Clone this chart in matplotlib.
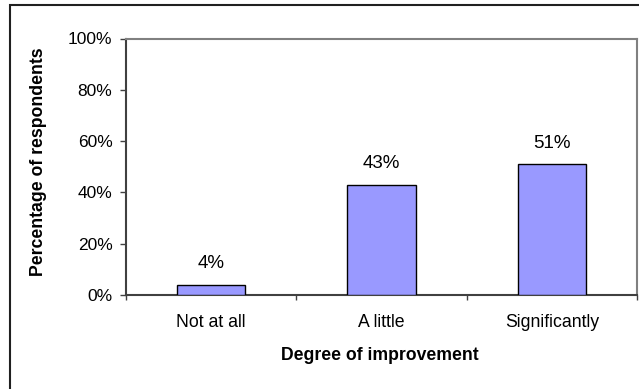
import matplotlib
matplotlib.use("Agg")
import matplotlib.pyplot as plt
from matplotlib.patches import Rectangle
from matplotlib.ticker import FuncFormatter

categories = ["Not at all", "A little", "Significantly"]
values = [4, 43, 51]
yticks = [0, 20, 40, 60, 80, 100]

plt.rcParams['font.family'] = ['Liberation Sans', 'DejaVu Sans']

W, H = 639, 389
fig = plt.figure(figsize=(W / 100, H / 100), dpi=100)

# plot area in pixel coords
left, right, top, bottom = 126, 637, 38.5, 295
ax = fig.add_axes([left / W, 1 - bottom / H, (right - left) / W, (bottom - top) / H])

x = list(range(len(categories)))
ax.bar(x, values, width=0.4, color="#9999FF", edgecolor="black", linewidth=1.0, zorder=3)
for xi, v in zip(x, values):
    ax.annotate(f"{v}%", (xi, v), xytext=(0, 9), textcoords="offset points",
                ha="center", va="bottom", fontsize=13.5)

ax.set_xlim(-0.5, len(categories) - 0.5)
ax.set_ylim(0, 100)
ax.set_yticks(yticks)
ax.yaxis.set_major_formatter(FuncFormatter(lambda v, p: f"{int(v)}%"))
ax.tick_params(axis="y", labelsize=12.5, length=4.3, width=1, color="#404040", pad=5.5)

ax.set_xticks([i - 0.5 for i in range(len(categories) + 1)])
ax.set_xticklabels([])
ax.set_xticks(x, minor=True)
ax.set_xticklabels(categories, minor=True, fontsize=12.7)
ax.tick_params(axis="x", which="major", length=3.6, width=1, color="#404040")
ax.tick_params(axis="x", which="minor", length=0, pad=13.5)

for s in ["left", "bottom"]:
    ax.spines[s].set_color("#404040")
    ax.spines[s].set_linewidth(1.5)
for s in ["top", "right"]:
    ax.spines[s].set_color("#808080")
    ax.spines[s].set_linewidth(1.5)

ax.set_ylabel("Percentage of respondents", fontsize=12.7, fontweight="bold")
ax.set_xlabel("Degree of improvement", fontsize=12.7, fontweight="bold")
ax.yaxis.set_label_coords((39 - left) / (right - left), (bottom - 162) / (bottom - top))
ax.yaxis.label.set_va("center")
ax.xaxis.set_label_coords((380 - left) / (right - left), (bottom - 356) / (bottom - top))
ax.xaxis.label.set_va("center")

# outer chart border (extends beyond right and bottom of image)
fig.patches.append(Rectangle((10 / W, -0.1), 1.2, 1 - 5 / H + 0.1,
                             transform=fig.transFigure, fill=False,
                             edgecolor="#202020", linewidth=1.5))

fig.savefig("out.png", dpi=100)
